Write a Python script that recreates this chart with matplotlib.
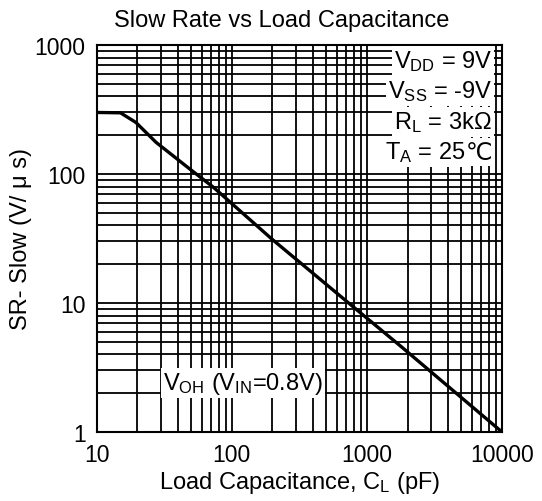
import matplotlib
matplotlib.use("Agg")
import matplotlib.pyplot as plt
from matplotlib.ticker import LogLocator, FixedLocator, NullFormatter

plt.rcParams['font.family'] = ['Liberation Sans', 'DejaVu Sans']
plt.rcParams['mathtext.fontset'] = 'custom'
plt.rcParams['mathtext.rm'] = 'Liberation Sans'
plt.rcParams['mathtext.it'] = 'Liberation Sans'

# Data
cap_pf = [10, 15, 19.5, 27.5, 48.5, 73, 198, 796, 1817, 10000]
slew = [300, 298, 251, 176, 110, 79, 31.3, 9.3, 4.54, 1.0]

x_ticks = [10, 100, 1000, 10000]
x_ticklabels = ['10', '100', '1000', '10000']
y_ticks = [1, 10, 100, 1000]
y_ticklabels = ['1', '10', '100', '1000']

title = 'Slow Rate vs Load Capacitance'
xlabel = 'Load Capacitance, C$_{\\mathrm{L}}$ (pF)'
ylabel = 'SR- Slow (V/ \u03bc s)'
cond_labels = ['V$_{\\mathrm{DD}}$ = 9V', 'V$_{\\mathrm{SS}}$ = -9V',
               'R$_{\\mathrm{L}}$ = 3k\u03a9', 'T$_{\\mathrm{A}}$ = 25']
cond_suffix = ['', '', '', '\u2103']
curve_label = 'V$_{\\mathrm{OH}}$ (V$_{\\mathrm{IN}}$=0.8V)'

fig = plt.figure(figsize=(5.42, 5.02), dpi=100)
ax = fig.add_axes([96.7/542, 1-433/502, (502-96.7)/542, (433-46)/502])

ax.set_xscale('log')
ax.set_yscale('log')
ax.set_xlim(10, 10000)
ax.set_ylim(1, 1000)

ax.xaxis.set_major_locator(FixedLocator(x_ticks))
ax.yaxis.set_major_locator(FixedLocator(y_ticks))
ax.set_xticklabels(x_ticklabels)
ax.set_yticklabels(y_ticklabels)
ax.xaxis.set_minor_locator(LogLocator(base=10, subs=range(2, 10)))
ax.yaxis.set_minor_locator(LogLocator(base=10, subs=range(2, 10)))
ax.xaxis.set_minor_formatter(NullFormatter())
ax.yaxis.set_minor_formatter(NullFormatter())

ax.grid(True, which='both', color='black', linewidth=1.3)
ax.set_axisbelow(True)
ax.tick_params(which='both', length=0, labelsize=16.5, pad=8)
for s in ax.spines.values():
    s.set_linewidth(1.5)
    s.set_color('black')

ax.plot(cap_pf, slew, color='black', linewidth=2.4, zorder=5)

ax.set_xlabel(xlabel, fontsize=17, labelpad=2)
ax.set_ylabel(ylabel, fontsize=17, labelpad=2)
fig.text(282/542, 1-21/502, title, fontsize=17, ha='center', va='center')

renderer = fig.canvas.get_renderer()
ys = [62, 92, 123, 153]
right_px = 492
for lab, suf, yp in zip(cond_labels, cond_suffix, ys):
    xr = right_px
    if suf:
        t2 = fig.text(xr/542, 1-yp/502, suf, fontsize=17, ha='right', va='center',
                      family=['DejaVu Sans'],
                      bbox=dict(facecolor='white', edgecolor='none', pad=1.5), zorder=10)
        bb = t2.get_window_extent(renderer)
        xr = bb.x0 * 542 / (fig.get_figwidth() * fig.dpi)
    fig.text(xr/542, 1-yp/502, lab, fontsize=17, ha='right', va='center',
             bbox=dict(facecolor='white', edgecolor='none', pad=1.5), zorder=10)

fig.text(163/542, 1-384/502, curve_label, fontsize=17, ha='left', va='center',
         bbox=dict(facecolor='white', edgecolor='none', pad=1.5), zorder=10)

fig.savefig('out.png', dpi=100, facecolor='white')
